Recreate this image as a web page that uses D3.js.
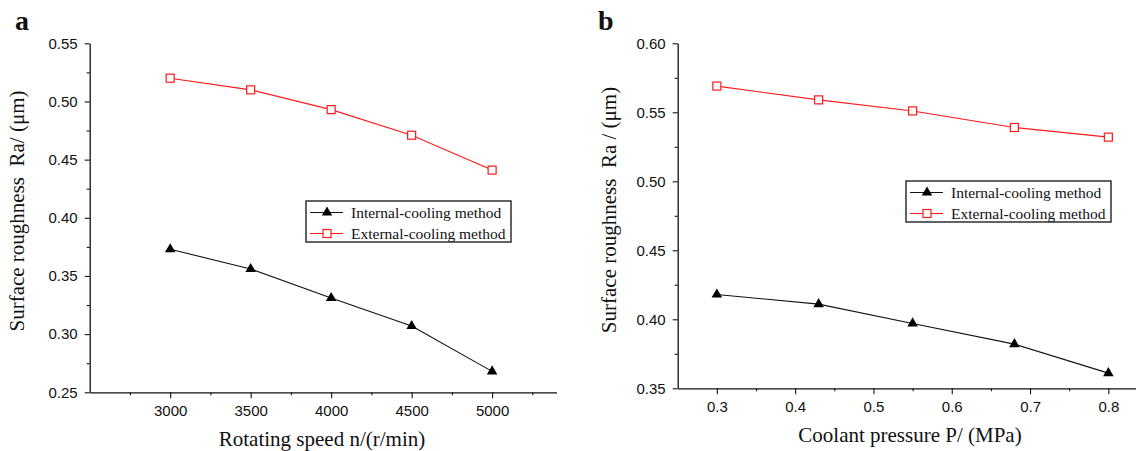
<!DOCTYPE html>
<html>
<head>
<meta charset="utf-8">
<script src="https://cdn.jsdelivr.net/npm/d3@7"></script>
<style>
  html, body { margin: 0; padding: 0; background: #fff; }
  svg { display: block; }
  .tick text { font-family: "Liberation Sans", Arial, sans-serif; font-size: 15px; fill: #111; }
  .serif { font-family: "Liberation Serif", "Times New Roman", serif; fill: #111; }
</style>
</head>
<body>
<svg id="chart" width="1136" height="451"></svg>
<script>
// Panel a: surface roughness vs. spindle speed
const speedValues = [3000, 3500, 4000, 4500, 5000];
const speedInternal = [0.373, 0.356, 0.331, 0.307, 0.268];
const speedExternal = [0.520, 0.510, 0.493, 0.471, 0.441];
const speedTicks = [3000, 3500, 4000, 4500, 5000];
const speedMinorTicks = [2750, 3250, 3750, 4250, 4750, 5250];
const roughTicksA = [0.25, 0.30, 0.35, 0.40, 0.45, 0.50, 0.55];
const roughMinorTicksA = [0.275, 0.325, 0.375, 0.425, 0.475, 0.525];

// Panel b: surface roughness vs. coolant pressure
const pressureValues = [0.3, 0.43, 0.55, 0.68, 0.8];
const pressureInternal = [0.418, 0.411, 0.397, 0.382, 0.361];
const pressureExternal = [0.569, 0.559, 0.551, 0.539, 0.532];
const pressureTicks = [0.3, 0.4, 0.5, 0.6, 0.7, 0.8];
const pressureMinorTicks = [0.35, 0.45, 0.55, 0.65, 0.75];
const roughTicksB = [0.35, 0.40, 0.45, 0.50, 0.55, 0.60];
const roughMinorTicksB = [0.375, 0.425, 0.475, 0.525, 0.575];

const seriesNames = ["Internal-cooling method", "External-cooling method"];
const RED = "#ff1a1a";

const svg = d3.select("#chart");

function drawPanel(cfg) {
  const g = svg.append("g");
  const x = d3.scaleLinear().domain(cfg.xDomain).range(cfg.xRange);
  const y = d3.scaleLinear().domain(cfg.yDomain).range(cfg.yRange);
  const x0 = cfg.xRange[0], yb = cfg.yRange[0];

  // minor ticks
  g.append("g").attr("transform", `translate(0,${yb})`)
    .call(d3.axisBottom(x).tickValues(cfg.xMinor).tickSize(3).tickFormat(""))
    .call(s => s.select(".domain").remove());
  g.append("g").attr("transform", `translate(${x0},0)`)
    .call(d3.axisLeft(y).tickValues(cfg.yMinor).tickSize(3).tickFormat(""))
    .call(s => s.select(".domain").remove());

  // major axes
  g.append("g").attr("transform", `translate(0,${yb})`)
    .call(d3.axisBottom(x).tickValues(cfg.xTicks).tickSize(6).tickSizeOuter(0)
      .tickPadding(7).tickFormat(cfg.xFormat));
  g.append("g").attr("transform", `translate(${x0},0)`)
    .call(d3.axisLeft(y).tickValues(cfg.yTicks).tickSize(5).tickSizeOuter(0)
      .tickPadding(7).tickFormat(d3.format(".2f")));
  g.selectAll(".domain").attr("stroke", "#111").attr("stroke-width", 1.3);
  g.selectAll(".tick line").attr("stroke", "#111").attr("stroke-width", 1.1);

  const line = d3.line().x(d => x(d[0])).y(d => y(d[1]));
  const internal = cfg.xs.map((v, i) => [v, cfg.internal[i]]);
  const external = cfg.xs.map((v, i) => [v, cfg.external[i]]);

  g.append("path").datum(external).attr("d", line)
    .attr("fill", "none").attr("stroke", RED).attr("stroke-width", 1.1);
  g.append("path").datum(internal).attr("d", line)
    .attr("fill", "none").attr("stroke", "#111").attr("stroke-width", 1.1);

  g.selectAll(".sq").data(external).join("rect")
    .attr("x", d => x(d[0]) - 4).attr("y", d => y(d[1]) - 4)
    .attr("width", 8).attr("height", 8)
    .attr("fill", "#fff").attr("stroke", RED).attr("stroke-width", 1.2);
  const tri = d3.symbol().type(d3.symbolTriangle).size(48);
  g.selectAll(".tri").data(internal).join("path")
    .attr("d", tri)
    .attr("transform", d => `translate(${x(d[0])},${y(d[1])})`)
    .attr("fill", "#000");

  // axis titles
  g.append("text").attr("class", "serif")
    .attr("x", cfg.xTitlePos[0]).attr("y", cfg.xTitlePos[1])
    .attr("text-anchor", "middle").attr("font-size", 21)
    .text(cfg.xTitle);
  g.append("text").attr("class", "serif")
    .attr("transform", `translate(${cfg.yTitlePos[0]},${cfg.yTitlePos[1]}) rotate(-90)`)
    .attr("text-anchor", "middle").attr("font-size", 21)
    .attr("xml:space", "preserve")
    .text(cfg.yTitle);

  // panel letter
  g.append("text").attr("class", "serif")
    .attr("x", cfg.letterPos[0]).attr("y", cfg.letterPos[1])
    .attr("font-size", 28).attr("font-weight", "bold")
    .text(cfg.letter);

  // legend
  const [lx, ly] = cfg.legendPos;
  const lg = g.append("g").attr("transform", `translate(${lx},${ly})`);
  lg.append("rect").attr("x", 0).attr("y", 0).attr("width", 205).attr("height", 41)
    .attr("fill", "#fff").attr("stroke", "#222").attr("stroke-width", 1.4);
  const rows = [
    { name: seriesNames[0], color: "#111", y: 11.5, marker: "tri" },
    { name: seriesNames[1], color: RED, y: 32.5, marker: "sq" }
  ];
  rows.forEach(r => {
    lg.append("line").attr("x1", 4).attr("x2", 37).attr("y1", r.y).attr("y2", r.y)
      .attr("stroke", r.color).attr("stroke-width", 1.1);
    if (r.marker === "tri") {
      lg.append("path").attr("d", tri).attr("transform", `translate(21,${r.y})`).attr("fill", "#000");
    } else {
      lg.append("rect").attr("x", 17).attr("y", r.y - 4).attr("width", 8).attr("height", 8)
        .attr("fill", "#fff").attr("stroke", RED).attr("stroke-width", 1.2);
    }
    lg.append("text").attr("class", "serif").attr("x", 45).attr("y", r.y + 5.5)
      .attr("font-size", 15.5).text(r.name);
  });
}

drawPanel({
  xDomain: [2500, 5400], xRange: [89.7, 556.5],
  yDomain: [0.25, 0.55], yRange: [392.3, 43.3],
  xTicks: speedTicks, xMinor: speedMinorTicks, xFormat: d3.format("d"),
  yTicks: roughTicksA, yMinor: roughMinorTicksA,
  xs: speedValues, internal: speedInternal, external: speedExternal,
  xTitle: "Rotating speed n/(r/min)", xTitlePos: [322, 446],
  yTitle: "Surface roughness  Ra/ (μm)", yTitlePos: [24, 211],
  letter: "a", letterPos: [15, 30],
  legendPos: [306, 201]
});

drawPanel({
  xDomain: [0.25, 0.85], xRange: [677.7, 1147.5],
  yDomain: [0.35, 0.60], yRange: [388.3, 43.3],
  xTicks: pressureTicks, xMinor: pressureMinorTicks, xFormat: d3.format(".1f"),
  yTicks: roughTicksB, yMinor: roughMinorTicksB,
  xs: pressureValues, internal: pressureInternal, external: pressureExternal,
  xTitle: "Coolant pressure P/ (MPa)", xTitlePos: [910, 442],
  yTitle: "Surface roughness  Ra / (μm)", yTitlePos: [616, 210],
  letter: "b", letterPos: [598, 30],
  legendPos: [906, 181]
});
</script>
</body>
</html>
